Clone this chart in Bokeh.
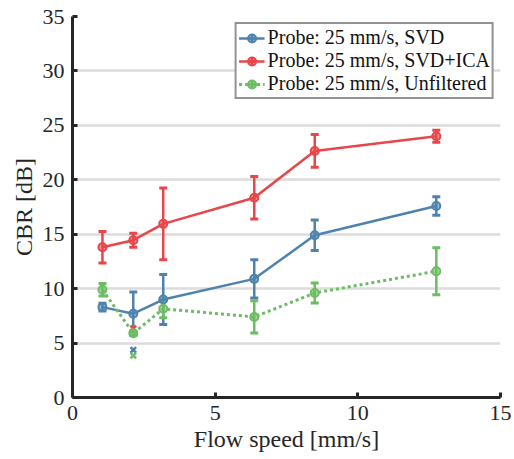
import numpy as np
from bokeh.plotting import figure
from bokeh.models import ColumnDataSource, Whisker, TeeHead, Legend, LegendItem, FixedTicker
from bokeh.embed import file_html
from bokeh.resources import INLINE

# ---- data ----
speed = [1.05, 2.13, 3.18, 6.37, 8.49, 12.75]
svd = [8.3, 7.7, 9.0, 10.9, 14.9, 17.6]
svd_err = [0.35, 2.0, 2.3, 1.75, 1.4, 0.85]
ica = [13.8, 14.45, 15.95, 18.35, 22.65, 24.0]
ica_err = [1.45, 0.65, 3.3, 1.95, 1.5, 0.55]
raw = [9.9, 5.9, 8.15, 7.4, 9.6, 11.6]
raw_err = [0.57, 0.15, 0.83, 1.48, 0.92, 2.15]
outlier_x = [2.13]
svd_out = [4.37]
ica_out = [6.35]
raw_out = [3.85]
labels = ["Probe: 25 mm/s, SVD", "Probe: 25 mm/s, SVD+ICA", "Probe: 25 mm/s, Unfiltered"]
xticks = [0, 5, 10, 15]
yticks = [0, 5, 10, 15, 20, 25, 30, 35]

BLUE = "#4f83ae"
RED = "#e8464b"
GREEN = "#6cbd62"
FONT = "Liberation Serif"

p = figure(width=512, height=455, x_range=(0, 15), y_range=(0, 35),
           output_backend="svg", toolbar_location=None,
           min_border_left=72, min_border_right=12, min_border_top=16, min_border_bottom=58)
p.outline_line_color = None
p.xgrid.grid_line_color = None
p.ygrid.grid_line_color = "#dcdcdc"
p.ygrid.grid_line_width = 2.5
for ax in (p.xaxis, p.yaxis):
    ax.axis_line_width = 3
    ax.axis_line_color = "#262626"
    ax.major_tick_line_color = "#262626"
    ax.major_tick_line_width = 3
    ax.major_tick_in = 5
    ax.major_tick_out = 0
    ax.minor_tick_line_color = None
    ax.major_label_text_font = FONT
    ax.major_label_text_font_size = "22px"
    ax.major_label_text_color = "#262626"
    ax.axis_label_text_font = FONT
    ax.axis_label_text_font_size = "24px"
    ax.axis_label_text_font_style = "normal"
    ax.axis_label_text_color = "#262626"
p.xaxis.ticker = FixedTicker(ticks=xticks)
p.yaxis.ticker = FixedTicker(ticks=yticks)
p.xaxis.axis_label = "Flow speed [mm/s]"
p.yaxis.axis_label = "CBR [dB]"
p.xaxis.major_label_standoff = 8
p.yaxis.major_label_standoff = 8
p.xaxis.axis_label_standoff = 3
p.yaxis.axis_label_standoff = 3

items = []
series = [(svd, svd_err, svd_out, BLUE, "solid"),
          (ica, ica_err, ica_out, RED, "solid"),
          (raw, raw_err, raw_out, GREEN, "3 3")]
for (vals, err, out, col, dash), lab in zip(series, labels):
    lo = [v - e for v, e in zip(vals, err)]
    hi = [v + e for v, e in zip(vals, err)]
    src = ColumnDataSource(dict(x=speed, y=vals, lo=lo, hi=hi))
    lw = 3 if dash != "solid" else 2.5
    r_line = p.line("x", "y", source=src, line_color=col, line_width=lw, line_dash=dash)
    w = Whisker(base="x", lower="lo", upper="hi", dimension="height", source=src,
                line_color=col, line_width=2.5,
                lower_head=TeeHead(size=8, line_color=col, line_width=3),
                upper_head=TeeHead(size=8, line_color=col, line_width=3))
    p.add_layout(w)
    # legend-only error bar glyph (NaN point is never drawn in the plot)
    r_bar = p.scatter(x=[np.nan], y=[np.nan], marker="cross", size=15,
                      line_color=col, line_width=2.5)
    r_pt = p.scatter("x", "y", source=src, marker="circle", size=8,
                     fill_color=col, fill_alpha=0.6, line_color=col, line_width=2)
    p.scatter(outlier_x, out, marker="x", size=8, line_color=col, line_width=2.5)
    items.append(LegendItem(label=lab, renderers=[r_line, r_bar, r_pt]))

leg = Legend(items=items, location="top_right", margin=6, padding=2, spacing=0,
             glyph_width=26, glyph_height=20, label_standoff=3, label_height=20,
             label_text_font=FONT, label_text_font_size="20px", label_text_color="#111111",
             border_line_color="#262626", border_line_width=2,
             background_fill_color="white", background_fill_alpha=1)
p.add_layout(leg, "center")

open("out.html", "w").write(file_html(p, INLINE))
